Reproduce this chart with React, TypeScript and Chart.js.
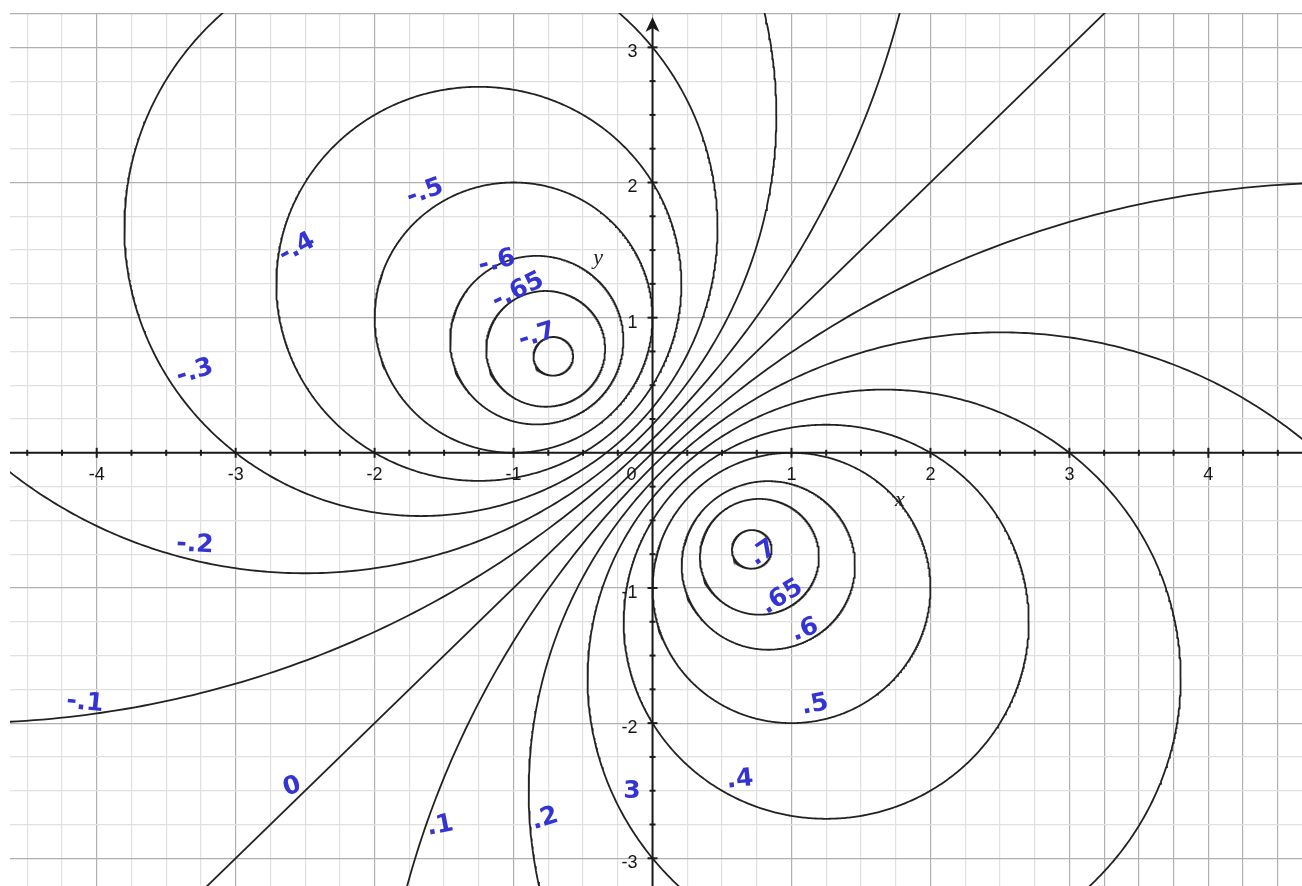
import React, { useEffect, useRef } from "react";
import { Chart, registerables } from "chart.js";

Chart.register(...registerables);

// Contour levels of f(x, y) = (x - y) / (1 + x^2 + y^2)
const LEVELS = [-0.7, -0.65, -0.6, -0.5, -0.4, -0.3, -0.2, -0.1, 0, 0.1, 0.2, 0.3, 0.4, 0.5, 0.6, 0.65, 0.7];

// Axis ranges and labelled ticks
const X_MIN = -4.624;
const X_MAX = 4.674;
const Y_MIN = -3.205;
const Y_MAX = 3.254;
const X_TICK_LABELS = [-4, -3, -2, -1, 0, 1, 2, 3, 4];
const Y_TICK_LABELS = [-3, -2, -1, 1, 2, 3];
const GRID_STEP = 0.25;

// Hand-written level notes (text, and where they sit in x/y units)
const NOTE_TEXT = ["-.5", "-.4", "-.6", "-.65", "-.7", "-.3", "-.2", "-.1", "0", ".1", ".2", "3", ".4", ".5", ".6", ".65", ".7"];
const NOTE_X = [-1.637, -2.558, -1.119, -0.968, -0.831, -3.293, -3.293, -4.085, -2.594, -1.529, -0.774, -0.148, 0.63, 1.169, 1.097, 0.932, 0.795];
const NOTE_Y = [1.928, 1.515, 1.411, 1.197, 0.865, 0.598, -0.682, -1.851, -2.472, -2.761, -2.709, -2.509, -2.42, -1.866, -1.311, -1.067, -0.742];
const NOTE_TILT = [-0.35, -0.5, -0.25, -0.45, -0.3, -0.3, 0.05, 0.1, -0.3, -0.2, -0.3, 0, -0.1, -0.2, -0.35, -0.55, -0.6];

function gridValues(min: number, max: number): number[] {
  const out: number[] = [];
  for (let k = Math.ceil(min / GRID_STEP); k * GRID_STEP <= max + 1e-9; k++) {
    out.push(+(k * GRID_STEP).toFixed(4));
  }
  return out;
}

// Each level set is a circle centred at (1/2c, -1/2c); level 0 is the line y = x
function levelCurve(c: number): { x: number; y: number }[] {
  if (c === 0) {
    return [{ x: -6, y: -6 }, { x: 6, y: 6 }];
  }
  const cx = 1 / (2 * c);
  const cy = -1 / (2 * c);
  const r = Math.sqrt(1 / (2 * c * c) - 1);
  const pts: { x: number; y: number }[] = [];
  const n = 720;
  for (let i = 0; i <= n; i++) {
    const t = (i / n) * Math.PI * 2;
    pts.push({ x: cx + r * Math.cos(t), y: cy + r * Math.sin(t) });
  }
  return pts;
}

const isWhole = (v: number) => Math.abs(v - Math.round(v)) < 1e-6;

const axesPlugin = {
  id: "cartesianAxes",
  afterDatasetsDraw(chart: any) {
    const { ctx, chartArea } = chart;
    const xs = chart.scales.x;
    const ys = chart.scales.y;
    const x0 = xs.getPixelForValue(0);
    const y0 = ys.getPixelForValue(0);
    ctx.save();
    ctx.strokeStyle = "#1a1a1a";
    ctx.fillStyle = "#1a1a1a";
    ctx.lineWidth = 2;

    // x axis
    ctx.beginPath();
    ctx.moveTo(chartArea.left, y0);
    ctx.lineTo(chartArea.right, y0);
    ctx.stroke();

    // y axis with arrow
    const tipY = chartArea.top + 4;
    ctx.beginPath();
    ctx.moveTo(x0, chartArea.bottom);
    ctx.lineTo(x0, tipY + 8);
    ctx.stroke();
    ctx.beginPath();
    ctx.moveTo(x0, tipY);
    ctx.lineTo(x0 + 7, tipY + 15);
    ctx.lineTo(x0, tipY + 11);
    ctx.lineTo(x0 - 7, tipY + 15);
    ctx.closePath();
    ctx.fill();

    // tick marks
    ctx.lineWidth = 2;
    for (const v of gridValues(X_MIN, X_MAX)) {
      if (v === 0) continue;
      const px = xs.getPixelForValue(v);
      const h = isWhole(v) ? 5 : 3;
      ctx.beginPath();
      ctx.moveTo(px, y0 - h);
      ctx.lineTo(px, y0 + h);
      ctx.stroke();
    }
    for (const v of gridValues(Y_MIN, Y_MAX)) {
      if (v === 0 || v > 3.1) continue;
      const py = ys.getPixelForValue(v);
      const w = isWhole(v) ? 5 : 3;
      ctx.beginPath();
      ctx.moveTo(x0 - w, py);
      ctx.lineTo(x0 + w, py);
      ctx.stroke();
    }

    // tick labels
    ctx.font = '18px "Liberation Sans", Arial, sans-serif';
    ctx.fillStyle = "#161616";
    ctx.textBaseline = "middle";
    for (const v of X_TICK_LABELS) {
      if (v === 0) {
        ctx.textAlign = "right";
        ctx.fillText("0", x0 - 16, y0 + 22);
        continue;
      }
      ctx.textAlign = "center";
      ctx.fillText(String(v), xs.getPixelForValue(v), y0 + 22);
    }
    ctx.textAlign = "right";
    for (const v of Y_TICK_LABELS) {
      ctx.fillText(String(v), x0 - 15, ys.getPixelForValue(v) + 5);
    }

    // axis names
    ctx.font = 'italic 22px "Liberation Serif", "DejaVu Serif", serif';
    ctx.fillStyle = "#222";
    ctx.textAlign = "center";
    ctx.fillText("y", xs.getPixelForValue(-0.392), ys.getPixelForValue(1.44));
    ctx.fillText("x", xs.getPixelForValue(1.781), ys.getPixelForValue(-0.35));
    ctx.restore();
  },
  afterDraw(chart: any) {
    const { ctx } = chart;
    const xs = chart.scales.x;
    const ys = chart.scales.y;
    ctx.save();
    ctx.fillStyle = "#3434d4";
    ctx.font = 'bold 25px "DejaVu Sans", sans-serif';
    ctx.textAlign = "center";
    ctx.textBaseline = "middle";
    NOTE_TEXT.forEach((t, i) => {
      ctx.save();
      ctx.translate(xs.getPixelForValue(NOTE_X[i]), ys.getPixelForValue(NOTE_Y[i]));
      ctx.rotate(NOTE_TILT[i]);
      ctx.fillText(t, 0, 0);
      ctx.restore();
    });
    ctx.restore();
  },
};

export default function App() {
  const canvasRef = useRef<HTMLCanvasElement | null>(null);

  useEffect(() => {
    const canvas = canvasRef.current;
    if (!canvas) return;

    const datasets = LEVELS.map((c) => ({
      label: `f = ${c}`,
      data: levelCurve(c),
      showLine: true,
      borderColor: "#222222",
      borderWidth: 1.8,
      pointRadius: 0,
      fill: false,
      tension: 0,
    }));

    const gridColor = (ctx: any) => {
      const v = ctx.tick ? ctx.tick.value : 0.5;
      if (isWhole(v) || v > 3.2) return "#b0b0b0";
      return "#e0e0e0";
    };

    const chart = new Chart(canvas, {
      type: "scatter",
      data: { datasets },
      options: {
        animation: false,
        responsive: false,
        devicePixelRatio: 1,
        layout: { padding: { left: 10, top: 13, right: 0, bottom: 0 } },
        plugins: {
          legend: { display: false },
          tooltip: { enabled: false },
        },
        scales: {
          x: {
            type: "linear",
            min: X_MIN,
            max: X_MAX,
            ticks: { display: false },
            border: { display: false },
            grid: { color: gridColor, drawTicks: false, lineWidth: 1.2 },
            afterBuildTicks: (scale: any) => {
              scale.ticks = gridValues(X_MIN, X_MAX).map((value) => ({ value }));
            },
          },
          y: {
            type: "linear",
            min: Y_MIN,
            max: Y_MAX,
            ticks: { display: false },
            border: { display: false },
            grid: { color: gridColor, drawTicks: false, lineWidth: 1.2 },
            afterBuildTicks: (scale: any) => {
              scale.ticks = gridValues(Y_MIN, Y_MAX).map((value) => ({ value }));
            },
          },
        },
      } as any,
      plugins: [axesPlugin],
    });

    return () => chart.destroy();
  }, []);

  return (
    <div style={{ position: "fixed", left: 0, top: 0, width: 1302, height: 886, background: "#fff" }}>
      <canvas ref={canvasRef} width={1302} height={886} style={{ width: 1302, height: 886, display: "block" }} />
    </div>
  );
}
